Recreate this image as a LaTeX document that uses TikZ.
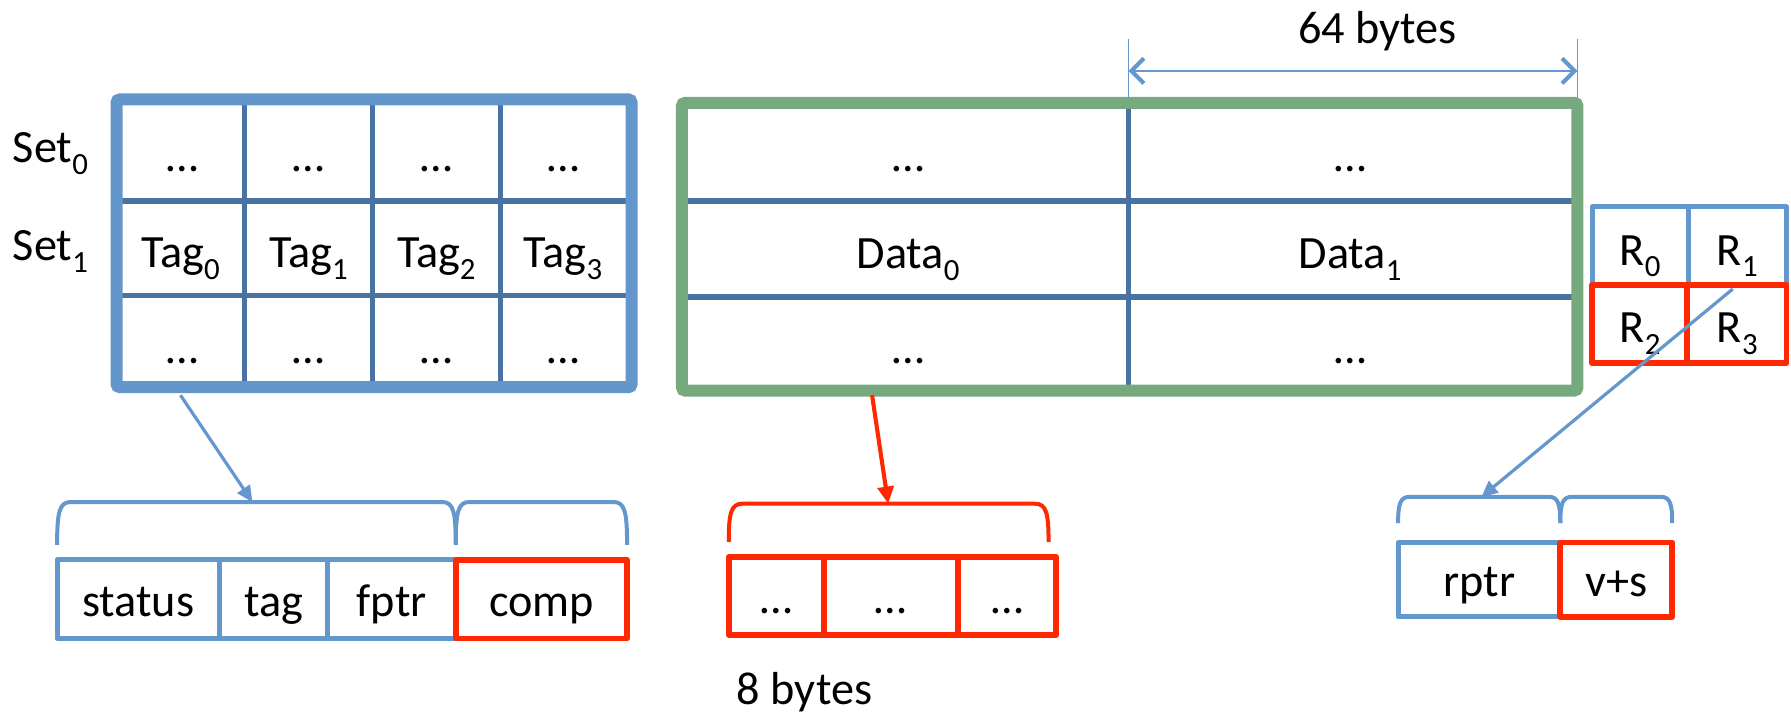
\documentclass[tikz,border=0pt]{standalone}
\usepackage{fontspec}
\setmainfont{Carlito}
\usetikzlibrary{arrows.meta}

\definecolor{tagblue}{RGB}{99,151,203}
\definecolor{gridblue}{RGB}{72,114,160}
\definecolor{datagreen}{RGB}{119,169,127}
\definecolor{fieldblue}{RGB}{100,151,205}
\definecolor{fieldred}{RGB}{255,40,0}

% lowered index in the label font
\newcommand\lowidx[1]{\raisebox{-10.5pt}{\fontsize{27pt}{30pt}\selectfont #1}}

\tikzset{
  lbl/.style={font=\fontsize{40.5pt}{48pt}\selectfont, inner sep=0pt, anchor=base},
  cellgrid/.style={draw=gridblue, line width=4.5pt},
  tagframe/.style={draw=tagblue, line width=10.5pt, rounded corners=3pt},
  dataframe/.style={draw=datagreen, line width=10.5pt, rounded corners=3pt},
  bluefield/.style={draw=fieldblue, line width=4.5pt, line join=round},
  redfield/.style={draw=fieldred, line width=5pt, line join=round},
  bluebrace/.style={draw=fieldblue, line width=3.5pt},
  redbrace/.style={draw=fieldred, line width=3.5pt},
  bluearrow/.style={draw=fieldblue, line width=2.8pt, -{Triangle[length=14pt,width=13pt]}},
  redarrow/.style={draw=fieldred, line width=3.6pt, -{Triangle[length=15pt,width=14pt]}},
  dimline/.style={draw=fieldblue, line width=1.2pt},
  dimarrow/.style={draw=fieldblue, line width=1.8pt,
    {Straight Barb[length=11pt,width=22pt,line width=3.5pt]}-{Straight Barb[length=11pt,width=22pt,line width=3.5pt]}},
}

\begin{document}
\begin{tikzpicture}[x=1pt,y=-1pt]
\useasboundingbox (0,0) rectangle (1568,625);

% ---------------- tag array ----------------
\draw[gridblue, line width=4pt] (216,342) -- (327,342);
\foreach \x in {214,326,438} \draw[cellgrid] (\x,92) -- (\x,334);
\foreach \y in {176,259} \draw[cellgrid] (107,\y) -- (548,\y);
\draw[tagframe] (102,87) rectangle (553,339);

\node[lbl, anchor=base west] (set0) at (11,142) {Set\lowidx{0}};
\node[lbl, anchor=base west] (set1) at (11,228) {Set\lowidx{1}};

\node[lbl] (t00) at (160,150) {…};
\node[lbl] (t01) at (270,150) {…};
\node[lbl] (t02) at (382,150) {…};
\node[lbl] (t03) at (493,150) {…};
\node[lbl] (t10) at (158,234) {Tag\lowidx{0}};
\node[lbl] (t11) at (270,234) {Tag\lowidx{1}};
\node[lbl] (t12) at (382,234) {Tag\lowidx{2}};
\node[lbl] (t13) at (493,234) {Tag\lowidx{3}};
\node[lbl] (t20) at (160,318) {…};
\node[lbl] (t21) at (270,318) {…};
\node[lbl] (t22) at (382,318) {…};
\node[lbl] (t23) at (493,318) {…};

% ---------------- data array ----------------
\draw[cellgrid] (988,95) -- (988,337);
\foreach \y in {176,260} \draw[cellgrid] (602,\y) -- (1376,\y);
\draw[dataframe] (597,90) rectangle (1381,342);

\node[lbl] (d00) at (795,150) {…};
\node[lbl] (d01) at (1182,150) {…};
\node[lbl] (d10) at (795,235) {Data\lowidx{0}};
\node[lbl] (d11) at (1182,235) {Data\lowidx{1}};
\node[lbl] (d20) at (795,318) {…};
\node[lbl] (d21) at (1182,318) {…};

% block size dimension
\coordinate (dimL) at (988,62);
\coordinate (dimR) at (1381,62);
\draw[dimline] (988,34) -- (988,86);
\draw[dimline] (1381,34) -- (1381,86);
\draw[dimarrow] (dimL) -- (dimR);
\node[lbl] (blk) at (1206,38) {64 bytes};

% ---------------- R array ----------------
\draw[bluefield, line width=4pt] (1394,181) rectangle (1564,249.5);
\draw[bluefield, line width=4pt] (1478,181) -- (1478,249.5);
\draw[redfield] (1394,249.5) rectangle (1564,318);
\draw[redfield] (1477,249.5) -- (1477,318);
\node[lbl] (r0) at (1436,232) {R\lowidx{0}};
\node[lbl] (r1) at (1521,232) {R\lowidx{1}};
\node[lbl] (r2) at (1436,300) {R\lowidx{2}};
\node[lbl] (r3) at (1521,300) {R\lowidx{3}};

% ---------------- tag entry fields ----------------
\draw[bluebrace] (50,477) .. controls (50,448) and (52,439.5) .. (62,439.5)
  -- (387,439.5) .. controls (397,439.5) and (399,448) .. (399,477);
\draw[bluebrace] (399,477) .. controls (399,448) and (401,439.5) .. (411,439.5)
  -- (537,439.5) .. controls (547,439.5) and (549,448) .. (549,477);
\draw[bluefield] (50,490) rectangle (399,559);
\draw[bluefield] (192,490) -- (192,559);
\draw[bluefield] (287,490) -- (287,559);
\draw[redfield] (399,490) rectangle (549,559);
\node[lbl] (fstatus) at (121,540) {status};
\node[lbl] (ftag) at (239.5,540) {tag};
\node[lbl] (ffptr) at (343,540) {fptr};
\node[lbl] (fcomp) at (474,540) {comp};

% ---------------- data words ----------------
\draw[redbrace] (638,474.5) .. controls (638,449) and (640,441) .. (650,441)
  -- (906,441) .. controls (916,441) and (918,449) .. (918,474.5);
\draw[redfield] (638,487.5) rectangle (924.5,556);
\draw[redfield] (721.5,487.5) -- (721.5,556);
\draw[redfield] (839,487.5) -- (839,556);
\node[lbl] (w0) at (680,537) {…};
\node[lbl] (w1) at (780,537) {…};
\node[lbl] (w2) at (882,537) {…};
\node[lbl, anchor=base west] (word) at (645,617) {8 bytes};

% ---------------- R entry fields ----------------
\draw[bluebrace] (1224,458) .. controls (1224,441) and (1226,435) .. (1234,435)
  -- (1356,435) .. controls (1364,435) and (1366,441) .. (1366,458);
\draw[bluebrace] (1366,458) .. controls (1366,441) and (1368,435) .. (1376,435)
  -- (1454,435) .. controls (1462,435) and (1464,441) .. (1464,458);
\draw[bluefield] (1224,475) rectangle (1366,540);
\draw[redfield] (1366,475) rectangle (1464,540);
\node[lbl] (frptr) at (1295,522.5) {rptr};
\node[lbl] (fvs) at (1415,522.5) {v+s};

% ---------------- connectors ----------------
\coordinate (tagsrc) at (158,346);
\coordinate (tagdst) at (221,439.5);
\coordinate (datasrc) at (763.5,346);
\coordinate (datadst) at (777.6,441);
\coordinate (rsrc) at (1517,253);
\coordinate (rdst) at (1297,435);
\draw[bluearrow] (tagsrc) -- (tagdst);
\draw[redarrow] (datasrc) -- (datadst);
\draw[bluearrow] (rsrc) -- (rdst);
\end{tikzpicture}
\end{document}
